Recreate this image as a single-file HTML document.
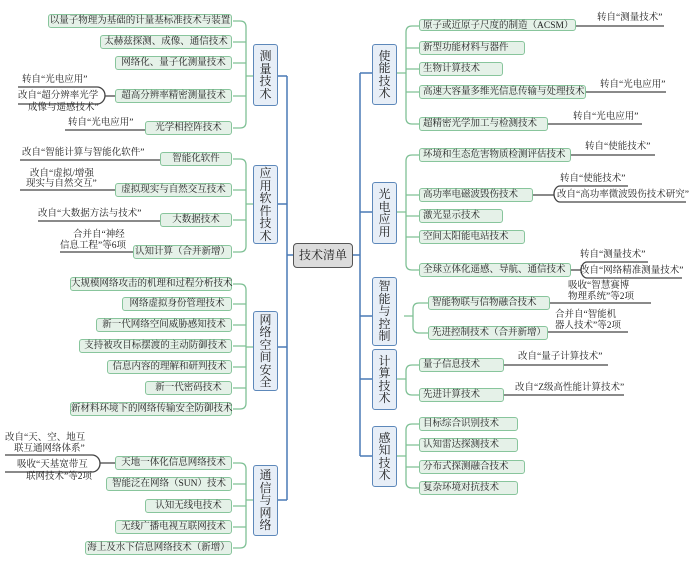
<!DOCTYPE html>
<html><head><meta charset="utf-8">
<style>
body{margin:0;width:692px;height:564px;background:#fff;position:relative;overflow:hidden;font-family:"Liberation Serif","Noto Serif CJK SC",serif;color:#222}
.g{position:absolute;height:12px;border:1.5px solid #88c59c;background:#e5f1e8;border-radius:3px;font-size:9.5px;line-height:12px;text-align:center;white-space:nowrap}
.c{position:absolute;width:21px;border:1.5px solid #5d88ba;background:#e7eef7;border-radius:3px;font-size:12px;line-height:12.5px;text-align:center;display:flex;align-items:center;justify-content:center;padding:0 1px;box-sizing:content-box;overflow:hidden}
.a{position:absolute;font-size:9.5px;line-height:11px;white-space:nowrap}
svg{position:absolute;left:0;top:0}
</style></head><body>
<svg width="692" height="564">
<g fill="none" stroke="#4a7ab5" stroke-width="1.5">
<path d="M276,76 H287 M276,204 H287 M276,347 H287 M276,500 H287 M287,76 V500 M287,255 H293"/>
<path d="M395,73 H360 M395,212 H360 M395,316 H360 M395,379 H360 M395,456 H360 M360,73 V456 M353,255 H360"/>
</g>
<g fill="none" stroke="#7fc095" stroke-width="1.3">
<path d="M253,76 H246 M233,21 H240 Q246,21 246,27 V122 Q246,128 240,128 H233 M233,42 H246 M233,63 H246 M233,96 H246"/>
<path d="M253,204 H246 M233,159 H240 Q246,159 246,165 V246 Q246,252 240,252 H233 M233,190 H246 M233,220 H246"/>
<path d="M253,347 H246 M233,284 H240 Q246,284 246,290 V403 Q246,409 240,409 H233 M233,304 H246 M233,325 H246 M233,346 H246 M233,367 H246 M233,388 H246"/>
<path d="M253,500 H246 M233,463 H240 Q246,463 246,469 V542 Q246,548 240,548 H233 M233,484 H246 M233,506 H246 M233,527 H246"/>
<path d="M395,73 H406 M419,26 H412 Q406,26 406,32 V118 Q406,124 412,124 H419 M419,48 H406 M419,69 H406 M419,92 H406"/>
<path d="M395,212 H406 M419,155 H412 Q406,155 406,161 V264 Q406,270 412,270 H419 M419,195 H406 M419,216 H406 M419,237 H406"/>
<path d="M404,316 H413 M428,303 H419 Q413,303 413,309 V327 Q413,333 419,333 H428"/>
<path d="M395,379 H406 M419,365 H412 Q406,365 406,371 V389 Q406,395 412,395 H419"/>
<path d="M395,456 H406 M419,424 H412 Q406,424 406,430 V482 Q406,488 412,488 H419 M419,445 H406 M419,467 H406"/>
</g>
<g fill="none" stroke="#444" stroke-width="1.3">
<path d="M18,87 H97 A8,8.5 0 0 1 97,104 H18 M105,96 H115"/>
<path d="M65,130 H145"/>
<path d="M20,160 H160 M20,190 H115 M38,221 H160 M60,252 H133"/>
<path d="M5,455 H92 A8,8.5 0 0 1 92,472 H5 M100,463 H115"/>
<path d="M576,26 H664 M584,92 H666 M546,124 H642 M569,155 H655"/>
<path d="M628,186 H560 A6,8 0 0 0 560,202 H686 M531,195 H554"/>
<path d="M648,262 H587 A6,8 0 0 0 587,278 H682 M569,270 H581"/>
<path d="M548,303 H651 M546,332 H628 M502,365 H608 M502,395 H624"/>
</g>
</svg>

<div style="position:absolute;left:293px;top:243px;width:58px;height:23px;border:1.5px solid #555;border-radius:4px;background:#dcdcdc;font-size:12px;line-height:23px;text-align:center">技术清单</div>

<div class="c" style="left:253px;top:44px;height:60px">测<br>量<br>技<br>术</div>
<div class="c" style="left:253px;top:165px;height:77px">应<br>用<br>软<br>件<br>技<br>术</div>
<div class="c" style="left:253px;top:311px;height:78px">网<br>络<br>空<br>间<br>安<br>全</div>
<div class="c" style="left:253px;top:465px;height:69px">通<br>信<br>与<br>网<br>络</div>
<div class="c" style="left:372px;top:44px;height:59px">使<br>能<br>技<br>术</div>
<div class="c" style="left:372px;top:182px;height:60px">光<br>电<br>应<br>用</div>
<div class="c" style="left:372px;top:277px;height:67px">智<br>能<br>与<br>控<br>制</div>
<div class="c" style="left:372px;top:349px;height:59px">计<br>算<br>技<br>术</div>
<div class="c" style="left:372px;top:426px;height:59px">感<br>知<br>技<br>术</div>

<div class="g" style="left:48px;top:14px;width:182px">以量子物理为基础的计量基标准技术与装置</div>
<div class="g" style="left:100px;top:35px;width:130px">太赫兹探测、成像、通信技术</div>
<div class="g" style="left:115px;top:56px;width:115px">网络化、量子化测量技术</div>
<div class="g" style="left:115px;top:89px;width:115px">超高分辨率精密测量技术</div>
<div class="g" style="left:145px;top:121px;width:85px">光学相控阵技术</div>
<div class="g" style="left:160px;top:152px;width:70px">智能化软件</div>
<div class="g" style="left:115px;top:183px;width:115px">虚拟现实与自然交互技术</div>
<div class="g" style="left:160px;top:213px;width:70px">大数据技术</div>
<div class="g" style="left:133px;top:245px;width:97px">认知计算（合并新增）</div>
<div class="g" style="left:70px;top:277px;width:160px">大规模网络攻击的机理和过程分析技术</div>
<div class="g" style="left:122px;top:297px;width:108px">网络虚拟身份管理技术</div>
<div class="g" style="left:96px;top:318px;width:134px">新一代网络空间威胁感知技术</div>
<div class="g" style="left:79px;top:339px;width:151px">支持被攻目标摆渡的主动防御技术</div>
<div class="g" style="left:107px;top:360px;width:123px">信息内容的理解和研判技术</div>
<div class="g" style="left:145px;top:381px;width:85px">新一代密码技术</div>
<div class="g" style="left:70px;top:402px;width:160px">新材料环境下的网络传输安全防御技术</div>
<div class="g" style="left:115px;top:456px;width:115px">天地一体化信息网络技术</div>
<div class="g" style="left:106px;top:477px;width:124px">智能泛在网络（SUN）技术</div>
<div class="g" style="left:145px;top:499px;width:85px">认知无线电技术</div>
<div class="g" style="left:115px;top:520px;width:115px">无线广播电视互联网技术</div>
<div class="g" style="left:85px;top:541px;width:145px">海上及水下信息网络技术（新增）</div>

<div class="g" style="left:419px;top:19px;text-align:left;padding-left:3px;box-sizing:border-box;width:157px">原子或近原子尺度的制造（ACSM）</div>
<div class="g" style="left:419px;top:41px;width:101px;text-align:left;padding-left:3px">新型功能材料与器件</div>
<div class="g" style="left:419px;top:62px;width:79px;text-align:left;padding-left:3px">生物计算技术</div>
<div class="g" style="left:419px;top:85px;width:162px;text-align:left;padding-left:3px">高速大容量多维光信息传输与处理技术</div>
<div class="g" style="left:419px;top:117px;width:124px;text-align:left;padding-left:3px">超精密光学加工与检测技术</div>
<div class="g" style="left:419px;top:148px;width:147px;text-align:left;padding-left:3px">环境和生态危害物质检测评估技术</div>
<div class="g" style="left:419px;top:188px;width:109px;text-align:left;padding-left:3px">高功率电磁波毁伤技术</div>
<div class="g" style="left:419px;top:209px;width:79px;text-align:left;padding-left:3px">激光显示技术</div>
<div class="g" style="left:419px;top:230px;width:101px;text-align:left;padding-left:3px">空间太阳能电站技术</div>
<div class="g" style="left:419px;top:263px;width:147px;text-align:left;padding-left:3px">全球立体化遥感、导航、通信技术</div>
<div class="g" style="left:428px;top:296px;width:117px;text-align:left;padding-left:3px">智能物联与信物融合技术</div>
<div class="g" style="left:428px;top:326px;width:115px;text-align:left;padding-left:3px">先进控制技术（合并新增）</div>
<div class="g" style="left:419px;top:358px;width:80px;text-align:left;padding-left:3px">量子信息技术</div>
<div class="g" style="left:419px;top:388px;width:80px;text-align:left;padding-left:3px">先进计算技术</div>
<div class="g" style="left:419px;top:417px;width:94px;text-align:left;padding-left:3px">目标综合识别技术</div>
<div class="g" style="left:419px;top:438px;width:94px;text-align:left;padding-left:3px">认知雷达探测技术</div>
<div class="g" style="left:419px;top:460px;width:101px;text-align:left;padding-left:3px">分布式探测融合技术</div>
<div class="g" style="left:419px;top:481px;width:94px;text-align:left;padding-left:3px">复杂环境对抗技术</div>

<div class="a" style="left:22px;top:75px">转自“光电应用”</div>
<div class="a" style="left:18px;top:91px">改自“超分辨率光学</div>
<div class="a" style="left:28px;top:103px">成像与遥感技术”</div>
<div class="a" style="left:68px;top:118px">转自“光电应用”</div>
<div class="a" style="left:22px;top:148px">改自“智能计算与智能化软件”</div>
<div class="a" style="left:30px;top:169px">改自“虚拟/增强</div>
<div class="a" style="left:26px;top:179px">现实与自然交互”</div>
<div class="a" style="left:38px;top:209px">改自“大数据方法与技术”</div>
<div class="a" style="left:73px;top:230px">合并自“神经</div>
<div class="a" style="left:60px;top:241px">信息工程”等6项</div>
<div class="a" style="left:5px;top:433px">改自“天、空、地互</div>
<div class="a" style="left:14px;top:444px">联互通网络体系”</div>
<div class="a" style="left:17px;top:460px">吸收“天基宽带互</div>
<div class="a" style="left:26px;top:472px">联网技术”等2项</div>

<div class="a" style="left:597px;top:13px">转自“测量技术”</div>
<div class="a" style="left:600px;top:80px">转自“光电应用”</div>
<div class="a" style="left:573px;top:112px">转自“光电应用”</div>
<div class="a" style="left:585px;top:142px">转自“使能技术”</div>
<div class="a" style="left:560px;top:174px">转自“使能技术”</div>
<div class="a" style="left:557px;top:190px">改自“高功率微波毁伤技术研究”</div>
<div class="a" style="left:580px;top:250px">转自“测量技术”</div>
<div class="a" style="left:580px;top:266px">改自“网络精准测量技术”</div>
<div class="a" style="left:568px;top:281px">吸收“智慧赛博</div>
<div class="a" style="left:568px;top:292px">物理系统”等2项</div>
<div class="a" style="left:555px;top:310px">合并自“智能机</div>
<div class="a" style="left:555px;top:321px">器人技术”等2项</div>
<div class="a" style="left:518px;top:352px">改自“量子计算技术”</div>
<div class="a" style="left:515px;top:383px">改自“Z级高性能计算技术”</div>
</body></html>
